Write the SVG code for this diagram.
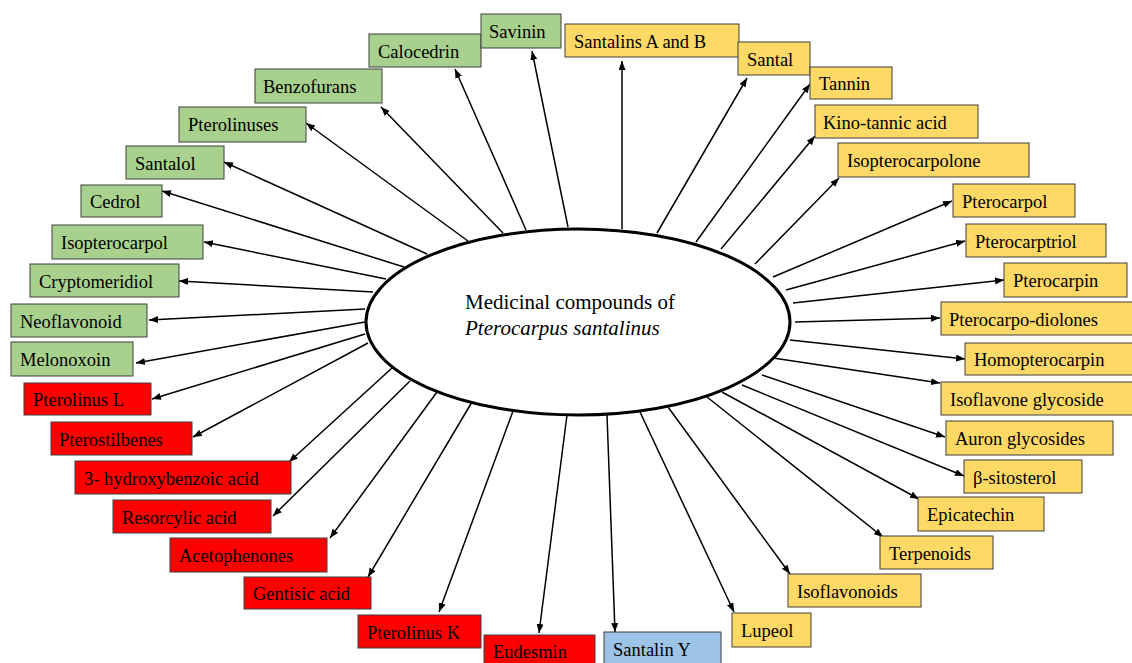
<svg xmlns="http://www.w3.org/2000/svg" width="1132" height="663" viewBox="0 0 1132 663">
<style>
.g{fill:#A9D18E;stroke:#3f3f3f;stroke-width:1}
.y{fill:#FFD966;stroke:#3f3f3f;stroke-width:1}
.r{fill:#FF0000;stroke:#3f3f3f;stroke-width:1}
.b{fill:#9DC3E6;stroke:#3f3f3f;stroke-width:1}
text{font-family:"Liberation Serif","Times New Roman",serif;font-size:18.5px;fill:#000}
.c line{stroke:#000;stroke-width:1.5;marker-end:url(#ah)}
</style>
<defs>
<marker id="ah" markerUnits="userSpaceOnUse" markerWidth="10" markerHeight="8" refX="9" refY="3.5" orient="auto">
<path d="M0,0 L9,3.5 L0,7 z" fill="#000"/>
</marker>
</defs>
<rect width="1132" height="663" fill="#fff"/>
<g id="connectors" class="c">
<line x1="568" y1="227" x2="532" y2="51"/>
<line x1="526" y1="230" x2="455" y2="69"/>
<line x1="503" y1="233" x2="381" y2="107"/>
<line x1="468" y1="241" x2="306" y2="123"/>
<line x1="427" y1="254" x2="224" y2="162"/>
<line x1="404" y1="267" x2="162" y2="191"/>
<line x1="386" y1="279" x2="204" y2="242"/>
<line x1="373" y1="292" x2="179" y2="281"/>
<line x1="365" y1="309" x2="149" y2="320"/>
<line x1="365" y1="322" x2="136" y2="363"/>
<line x1="365" y1="334" x2="152" y2="399"/>
<line x1="368" y1="343" x2="193" y2="437"/>
<line x1="392" y1="368" x2="289" y2="462"/>
<line x1="410" y1="381" x2="273" y2="516"/>
<line x1="437" y1="392" x2="330" y2="538"/>
<line x1="472" y1="402" x2="368" y2="577"/>
<line x1="513" y1="411" x2="439" y2="612"/>
<line x1="567" y1="415" x2="539" y2="633"/>
<line x1="607" y1="415" x2="615" y2="632"/>
<line x1="640" y1="412" x2="734" y2="612"/>
<line x1="668" y1="407" x2="790" y2="574"/>
<line x1="707" y1="397" x2="883" y2="537"/>
<line x1="722" y1="392" x2="919" y2="499"/>
<line x1="742" y1="385" x2="964" y2="476"/>
<line x1="762" y1="375" x2="945" y2="437"/>
<line x1="773" y1="358" x2="940" y2="383"/>
<line x1="790" y1="340" x2="965" y2="359"/>
<line x1="795" y1="322" x2="940" y2="318"/>
<line x1="793" y1="303" x2="1004" y2="280"/>
<line x1="786" y1="290" x2="965" y2="241"/>
<line x1="773" y1="277" x2="952" y2="201"/>
<line x1="755" y1="264" x2="839" y2="178"/>
<line x1="721" y1="249" x2="815" y2="136"/>
<line x1="696" y1="242" x2="810" y2="84"/>
<line x1="657" y1="233" x2="747" y2="78"/>
<line x1="622" y1="229" x2="622" y2="61"/>
</g>
<g id="center">
<ellipse cx="578" cy="322" rx="212" ry="93" fill="#fff" stroke="#000" stroke-width="3"/>
<text x="465" y="309" style="font-size:21px">Medicinal compounds of</text>
<text x="465" y="335" style="font-size:21px;font-style:italic">Pterocarpus santalinus</text>
</g>
<g id="calocedrin"><rect class="g" x="369" y="34" width="112" height="33"/><text x="378" y="58">Calocedrin</text></g>
<g id="savinin"><rect class="g" x="481" y="14" width="80" height="34"/><text x="489" y="38">Savinin</text></g>
<g id="benzofurans"><rect class="g" x="255" y="69" width="127" height="34"/><text x="263" y="93">Benzofurans</text></g>
<g id="pterolinuses"><rect class="g" x="179" y="107" width="127" height="35"/><text x="188" y="131">Pterolinuses</text></g>
<g id="santalol"><rect class="g" x="126" y="146" width="98" height="33"/><text x="135" y="170">Santalol</text></g>
<g id="cedrol"><rect class="g" x="81" y="185" width="81" height="32"/><text x="90" y="208">Cedrol</text></g>
<g id="isopterocarpol"><rect class="g" x="52" y="225" width="151" height="34"/><text x="61" y="249">Isopterocarpol</text></g>
<g id="cryptomeridiol"><rect class="g" x="30" y="264" width="149" height="33"/><text x="39" y="288">Cryptomeridiol</text></g>
<g id="neoflavonoid"><rect class="g" x="11" y="304" width="136" height="33"/><text x="20" y="328">Neoflavonoid</text></g>
<g id="melonoxoin"><rect class="g" x="11" y="342" width="122" height="34"/><text x="20" y="366">Melonoxoin</text></g>
<g id="pterolinus-l"><rect class="r" x="24" y="383" width="127" height="32"/><text x="33" y="406">Pterolinus L</text></g>
<g id="pterostilbenes"><rect class="r" x="51" y="422" width="141" height="33"/><text x="59" y="446">Pterostilbenes</text></g>
<g id="hydroxybenzoic"><rect class="r" x="75" y="461" width="216" height="33"/><text x="84" y="485">3- hydroxybenzoic  acid</text></g>
<g id="resorcylic"><rect class="r" x="113" y="500" width="158" height="33"/><text x="122" y="524">Resorcylic  acid</text></g>
<g id="acetophenones"><rect class="r" x="170" y="538" width="157" height="34"/><text x="179" y="562">Acetophenones</text></g>
<g id="gentisic"><rect class="r" x="244" y="577" width="127" height="32"/><text x="253" y="600">Gentisic  acid</text></g>
<g id="pterolinus-k"><rect class="r" x="358" y="615" width="123" height="33"/><text x="367" y="639">Pterolinus K</text></g>
<g id="eudesmin"><rect class="r" x="484" y="635" width="111" height="40"/><text x="493" y="658">Eudesmin</text></g>
<g id="santalin-y"><rect class="b" x="604" y="632" width="117" height="40"/><text x="613" y="656">Santalin  Y</text></g>
<g id="lupeol"><rect class="y" x="732" y="613" width="79" height="34"/><text x="741" y="637">Lupeol</text></g>
<g id="isoflavonoids"><rect class="y" x="788" y="574" width="133" height="33"/><text x="797" y="598">Isoflavonoids</text></g>
<g id="terpenoids"><rect class="y" x="880" y="536" width="113" height="33"/><text x="889" y="560">Terpenoids</text></g>
<g id="epicatechin"><rect class="y" x="918" y="497" width="126" height="34"/><text x="927" y="521">Epicatechin</text></g>
<g id="sitosterol"><rect class="y" x="964" y="460" width="118" height="33"/><text x="973" y="484">β-sitosterol</text></g>
<g id="auron"><rect class="y" x="946" y="421" width="167" height="34"/><text x="955" y="445">Auron glycosides</text></g>
<g id="isoflavone-glycoside"><rect class="y" x="941" y="382" width="195" height="33"/><text x="950" y="406">Isoflavone  glycoside</text></g>
<g id="homopterocarpin"><rect class="y" x="965" y="343" width="171" height="32"/><text x="974" y="366">Homopterocarpin</text></g>
<g id="pterocarpo-diolones"><rect class="y" x="941" y="302" width="195" height="33"/><text x="949" y="326">Pterocarpo-diolones</text></g>
<g id="pterocarpin"><rect class="y" x="1004" y="263" width="123" height="34"/><text x="1013" y="287">Pterocarpin</text></g>
<g id="pterocarptriol"><rect class="y" x="966" y="224" width="140" height="33"/><text x="975" y="248">Pterocarptriol</text></g>
<g id="pterocarpol"><rect class="y" x="953" y="184" width="122" height="33"/><text x="962" y="208">Pterocarpol</text></g>
<g id="isopterocarpolone"><rect class="y" x="838" y="143" width="191" height="34"/><text x="847" y="167">Isopterocarpolone</text></g>
<g id="kino-tannic"><rect class="y" x="815" y="105" width="163" height="33"/><text x="823" y="129">Kino-tannic  acid</text></g>
<g id="santalins-ab"><rect class="y" x="565" y="24" width="174" height="33"/><text x="574" y="48">Santalins  A and B</text></g>
<g id="santal"><rect class="y" x="738" y="42" width="72" height="33"/><text x="747" y="66">Santal</text></g>
<g id="tannin"><rect class="y" x="810" y="67" width="82" height="32"/><text x="819" y="90">Tannin</text></g>
</svg>
